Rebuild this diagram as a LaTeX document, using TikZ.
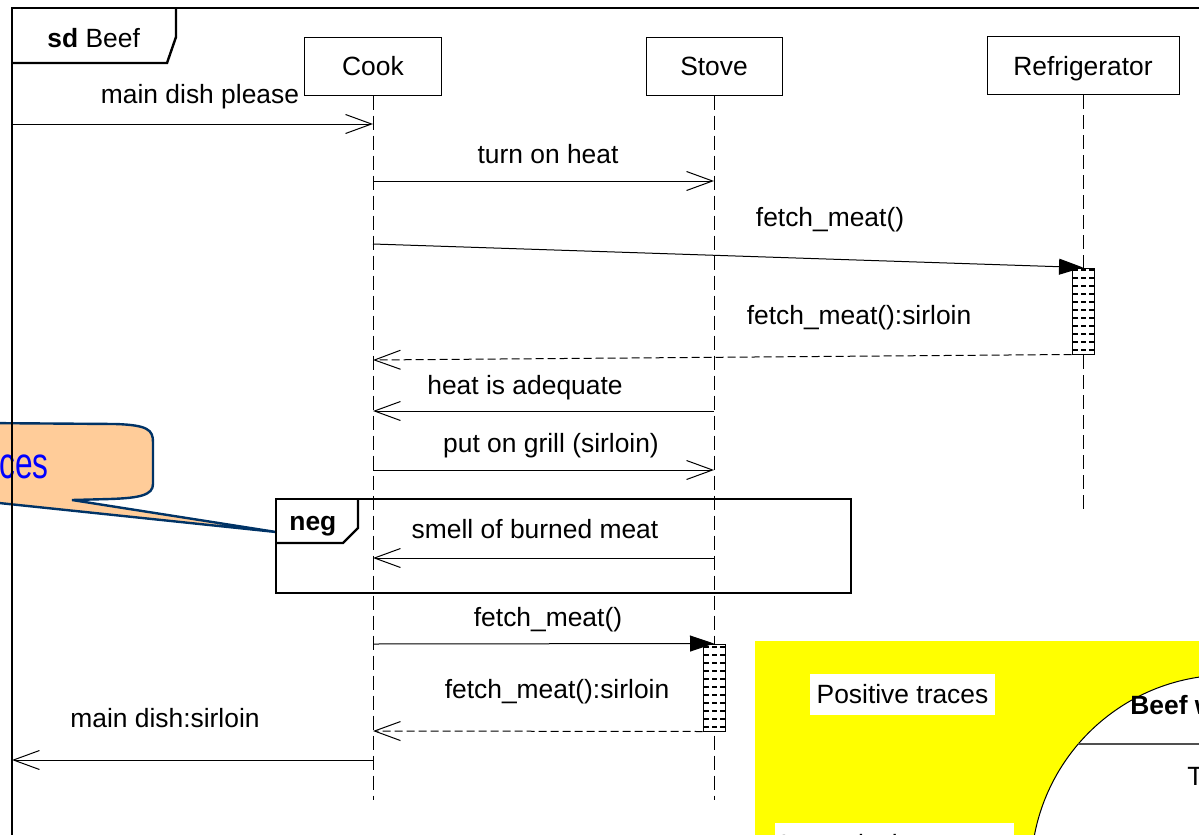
\documentclass[tikz,border=0pt]{standalone}
\usepackage{fontspec}
\setmainfont{Liberation Sans}
\usetikzlibrary{arrows.meta}
\definecolor{calloutfill}{HTML}{FFCC99}
\definecolor{calloutline}{HTML}{003366}
\definecolor{noteyellow}{HTML}{FFFF00}
\definecolor{textblue}{HTML}{0000FF}
\definecolor{rulegray}{HTML}{505050}
\begin{document}
\begin{tikzpicture}[x=0.5pt,y=-0.5pt,
  txt/.style={font=\fontsize{13.2}{16}\selectfont, inner sep=0pt},
  lifebox/.style={draw, line width=0.5pt, fill=white, inner sep=0pt, minimum height=29pt, text height=9.5pt, text depth=0pt, font=\fontsize{13.2}{16}\selectfont},
  lifeline/.style={line width=0.5pt, dash pattern=on 7pt off 3pt},
  msg/.style={line width=0.5pt, -{Straight Barb[length=13pt,width=9.5pt]}},
  callmsg/.style={line width=0.5pt, -{Triangle[length=12pt,width=8pt]}},
  reply/.style={line width=0.5pt, dash pattern=on 4pt off 2pt, -{Straight Barb[length=13pt,width=9.5pt]}},
  framebox/.style={line width=1.2pt},
  actbox/.style={draw, line width=0.5pt, fill=white, inner sep=0pt, minimum width=11pt},
  actfill/.style={line width=0.8pt, dash pattern=on 2.5pt off 1.5pt},
  whitelabel/.style={fill=white, inner sep=0pt, font=\fontsize{13.2}{16}\selectfont},
]
\useasboundingbox (0,0) rectangle (1199,835);
\clip (0,0) rectangle (1199,835);

% callout (behind the frame line)
\filldraw[fill=calloutfill, draw=calloutline, line width=1.2pt]
  (-20,423) -- (115,424) .. controls (148,425) and (153,430) .. (153,442)
  -- (153,484) .. controls (153,495) and (140,498) .. (110,499)
  -- (72,500) -- (276,532) -- (-20,501) -- cycle;
\node[anchor=base west, text=textblue, inner sep=0pt, font=\fontsize{22}{26}\selectfont] (calltext) at (-1,478) {\scalebox{0.72}[1]{ces}};

% outer frame
\draw[framebox] (12,850) -- (12,8) -- (1215,8);
\draw[framebox] (12,63) -- (167,63) -- (176,37) -- (176,8);
\node[txt, anchor=base west] (sdlabel) at (47,47) {\textbf{sd} Beef};

% lifelines
\node[lifebox, minimum width=68.5pt] (cook) at (373,66) {Cook};
\node[lifebox, minimum width=68pt] (stove) at (714,66) {Stove};
\node[lifebox, minimum width=96pt] (fridge) at (1083,65.5) {Refrigerator};
\coordinate (cookend) at (373,800);
\coordinate (stoveend) at (714,800);
\coordinate (fridgeend) at (1083,512);
\draw[lifeline] (cook.south) -- (cookend);
\draw[lifeline] (stove.south) -- (stoveend);
\draw[lifeline] (fridge.south) -- (fridgeend);

% activations
\node[actbox, minimum height=43pt] (act1) at (1083,311) {};
\foreach \yy in {270,278,...,350} \draw[actfill] (1073,\yy) -- (1094,\yy);
\node[actbox, minimum height=43.5pt] (act2) at (714,687.5) {};
\foreach \yy in {647,655,...,727} \draw[actfill] (704,\yy) -- (725,\yy);

% message end points
\coordinate (gin) at (12,124);
\coordinate (m1e) at (373,124);
\coordinate (m2s) at (373,181);
\coordinate (m2e) at (714,181);
\coordinate (m3s) at (373,244);
\coordinate (m4e) at (373,360);
\coordinate (m5s) at (714,411);
\coordinate (m5e) at (373,411);
\coordinate (m6s) at (373,470);
\coordinate (m6e) at (714,470);
\coordinate (m7s) at (714,558);
\coordinate (m7e) at (373,558);
\coordinate (m8s) at (373,644);
\coordinate (m9e) at (373,731);
\coordinate (m10s) at (373,760);
\coordinate (gout) at (12,760);

\draw[msg] (gin) -- (m1e);
\node[txt, anchor=base] (l1) at (200,103) {main dish please};
\draw[msg] (m2s) -- (m2e);
\node[txt, anchor=base] (l2) at (548,163) {turn on heat};
\draw[callmsg] (m3s) -- (act1.north);
\node[txt, anchor=base] (l3) at (830,226) {fetch\_meat()};
\draw[reply] (act1.south west) -- (m4e);
\node[txt, anchor=base] (l4) at (859,324) {fetch\_meat():sirloin};
\draw[msg] (m5s) -- (m5e);
\node[txt, anchor=base] (l5) at (525,394) {heat is adequate};
\draw[msg] (m6s) -- (m6e);
\node[txt, anchor=base] (l6) at (551,452) {put on grill (sirloin)};

% neg fragment
\draw[framebox] (276,499) rectangle (851,593);
\draw[framebox] (276,543) -- (343,543) -- (358,528) -- (358,499);
\node[txt, anchor=base west] (neglabel) at (289,530) {\textbf{neg}};
\draw[msg] (m7s) -- (m7e);
\node[txt, anchor=base] (l7) at (535,538) {smell of burned meat};

\draw[callmsg] (m8s) -- (act2.north);
\node[txt, anchor=base] (l8) at (548,626) {fetch\_meat()};
\draw[reply] (act2.south west) -- (m9e);
\node[txt, anchor=base] (l9) at (557,698) {fetch\_meat():sirloin};
\draw[msg] (m10s) -- (gout);
\node[txt, anchor=base] (l10) at (165,727) {main dish:sirloin};

% yellow legend area
\fill[noteyellow] (755,641) rectangle (1215,850);
\node[whitelabel, minimum width=92.5pt, minimum height=20.5pt] (pos) at (902.5,694.5) {Positive traces};
\fill[white] (775,823) rectangle (1014,850);
\node[txt, anchor=base west] (inc) at (780,853) {Inconclusive traces};
\filldraw[fill=white, draw=black, line width=0.5pt] (1228,872) circle[radius=98.5pt];
\draw[rulegray, line width=0.7pt] (1078,744) -- (1215,744);
\node[txt, anchor=base west] (beefw) at (1130,714) {\textbf{Beef w}};
\node[txt, anchor=base west] (tt) at (1187,785) {T};
\end{tikzpicture}
\end{document}
